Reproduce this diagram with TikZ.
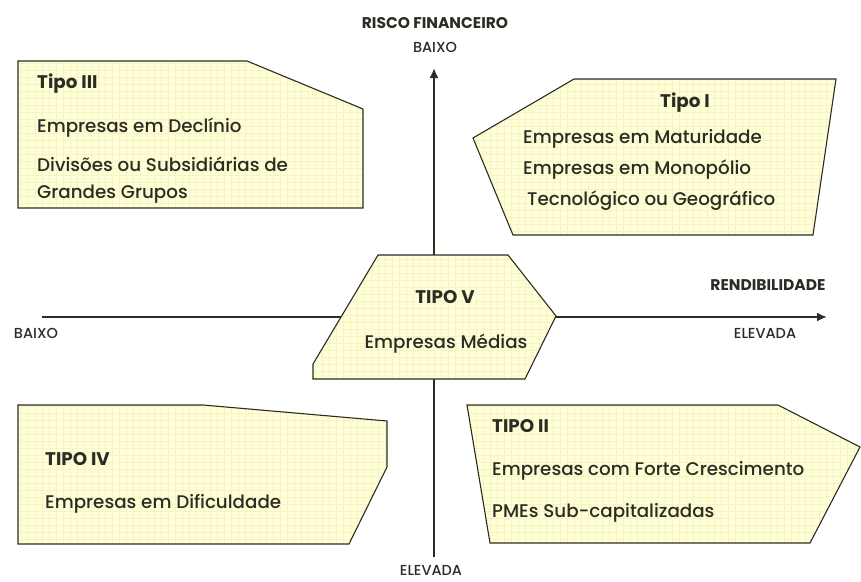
\documentclass[tikz,border=0pt]{standalone}
\usepackage{fontspec}
\setmainfont{Poppins}[UprightFont=* Medium, BoldFont=* Bold]
\usetikzlibrary{arrows.meta}
\definecolor{ink}{RGB}{45,43,35}
\definecolor{boxfill}{RGB}{255,255,214}
\definecolor{gridc}{RGB}{246,243,203}
\newcommand{\yellowbox}[1]{%
  \fill[boxfill] #1;
  \begin{scope}\clip #1;
    \draw[gridc, line width=0.35pt, step=7pt] (0,0) grid (861,581);
  \end{scope}
  \draw[boxline] #1;}
\tikzset{
  boxline/.style={draw=ink, line width=1.1pt, line join=miter},
  axis/.style={draw=ink, line width=2.6pt},
  txt/.style={anchor=base west, inner sep=0pt, text=ink, font=\fontsize{18.3}{22}\selectfont},
  hd/.style={anchor=base west, inner sep=0pt, text=ink, font=\fontsize{18.3}{22}\selectfont\bfseries},
  lab/.style={anchor=base, inner sep=0pt, text=ink, font=\fontsize{14.5}{17}\selectfont},
  labb/.style={anchor=base, inner sep=0pt, text=ink, font=\fontsize{15.5}{18}\selectfont\bfseries}
}
\begin{document}
\begin{tikzpicture}[x=1pt,y=-1pt]
\useasboundingbox (0,0) rectangle (861,581);
% axes
\coordinate (vtop) at (434,68);
\coordinate (vbot) at (434,557);
\coordinate (hleft) at (42,317);
\coordinate (hright) at (827,317);
\draw[axis,-{Latex[length=10pt,width=9pt]}] (vbot) -- (vtop);
\draw[axis,-{Latex[length=10pt,width=9pt]}] (hleft) -- (hright);
% boxes
\yellowbox{(18,61) -- (247,61) -- (363,109) -- (363,208) -- (18,208) -- cycle}
\yellowbox{(574,79) -- (836,79) -- (813,235) -- (513,235) -- (473,138) -- cycle}
\yellowbox{(378,255) -- (508,255) -- (556,316) -- (525,379) -- (313,379) -- (313,364) -- cycle}
\yellowbox{(18,405) -- (203,405) -- (387,421) -- (387,467) -- (349,544) -- (18,544) -- cycle}
\yellowbox{(467,405) -- (778,405) -- (860,447) -- (810,543) -- (490,543) -- cycle}
% Tipo III
\node[hd] (t3h) at (37,88) {Tipo III};
\node[txt] (t3a) at (37,132) {Empresas em Declínio};
\node[txt] (t3b) at (37,171) {Divisões ou Subsidiárias de};
\node[txt] (t3c) at (37,198) {Grandes Grupos};
% Tipo I
\node[hd, anchor=base] (t1h) at (685,107) {Tipo I};
\node[txt] (t1a) at (523,143) {Empresas em Maturidade};
\node[txt] (t1b) at (523,174) {Empresas em Monopólio};
\node[txt] (t1c) at (527,205) {Tecnológico ou Geográfico};
% Tipo V
\node[hd, anchor=base] (t5h) at (445,303) {TIPO V};
\node[txt, anchor=base] (t5a) at (446,348) {Empresas Médias};
% Tipo IV
\node[hd] (t4h) at (45,465) {TIPO IV};
\node[txt] (t4a) at (45,508) {Empresas em Dificuldade};
% Tipo II
\node[hd] (t2h) at (492,432) {TIPO II};
\node[txt] (t2a) at (492,475) {Empresas com Forte Crescimento};
\node[txt] (t2b) at (492,517) {PMEs Sub-capitalizadas};
% axis labels
\node[labb] (risco) at (435,28) {RISCO FINANCEIRO};
\node[lab] (baixoT) at (435,52) {BAIXO};
\node[labb] (rend) at (768,290) {RENDIBILIDADE};
\node[lab] (elevR) at (765,338) {ELEVADA};
\node[lab] (baixoL) at (36,338) {BAIXO};
\node[lab] (elevB) at (431,575) {ELEVADA};
\end{tikzpicture}
\end{document}
